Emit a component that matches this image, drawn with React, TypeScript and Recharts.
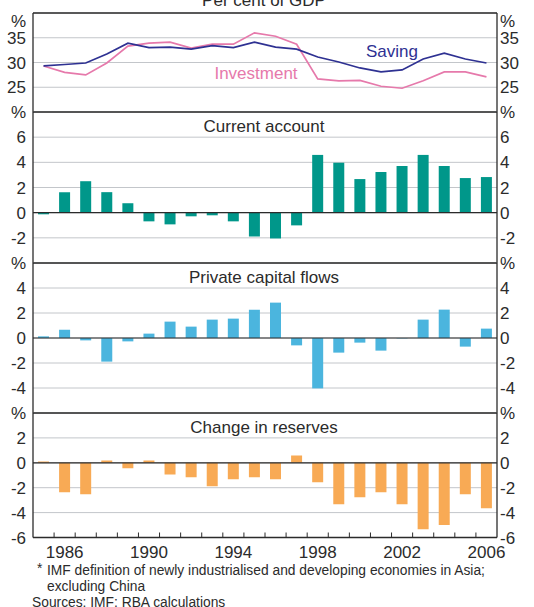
import { ComposedChart, Bar, Line, XAxis, YAxis, CartesianGrid, ReferenceLine } from "recharts";

const years = ["1985", "1986", "1987", "1988", "1989", "1990", "1991", "1992", "1993", "1994", "1995",
  "1996", "1997", "1998", "1999", "2000", "2001", "2002", "2003", "2004", "2005", "2006"];
const yearLabels = ["1986", "1990", "1994", "1998", "2002", "2006"];

const saving = [29.3, 29.6, 29.9, 31.7, 33.9, 33.0, 33.1, 32.7, 33.4, 33.0, 34.1,
  33.1, 32.7, 31.1, 30.1, 28.9, 28.1, 28.5, 30.7, 31.9, 30.7, 29.9];
const investment = [29.3, 28.0, 27.5, 29.9, 33.3, 33.9, 34.1, 32.9, 33.7, 33.7, 36.0,
  35.3, 33.7, 26.7, 26.3, 26.4, 25.2, 24.8, 26.3, 28.1, 28.1, 27.1];
const currentAccount = [-0.13, 1.63, 2.5, 1.63, 0.75, -0.69, -0.93, -0.29, -0.21, -0.69, -1.89,
  -2.05, -1.01, 4.59, 3.97, 2.67, 3.23, 3.71, 4.59, 3.71, 2.75, 2.83];
const privateFlows = [0.13, 0.67, -0.19, -1.89, -0.27, 0.35, 1.31, 0.91, 1.47, 1.55, 2.27,
  2.83, -0.59, -4.03, -1.17, -0.37, -1.01, -0.03, 1.47, 2.27, -0.69, 0.75];
const reserves = [0.1, -2.37, -2.53, 0.19, -0.43, 0.19, -0.93, -1.17, -1.89, -1.33, -1.17,
  -1.33, 0.59, -1.57, -3.33, -2.77, -2.37, -3.33, -5.33, -4.99, -2.53, -3.65];

const data = years.map((year, i) => ({
  year,
  saving: saving[i],
  investment: investment[i],
  currentAccount: currentAccount[i],
  privateFlows: privateFlows[i],
  reserves: reserves[i],
}));

const W = 534;
const H = 607;
const LEFT = 33;
const RIGHT = 497;
const BAND = (RIGHT - LEFT) / years.length;
const FONT = "'Liberation Sans', Arial, sans-serif";
const INK = "#2b2b2b";
const GRID = "#c3c6ca";
const AXIS_Y = 537.5;

const yTick = (side: "left" | "right", top: number, pctDy: number) => (p: any) => {
  const isPct = p.payload.value === top;
  return (
    <text
      x={side === "left" ? 26 : 500}
      y={p.y + (isPct ? pctDy : 0)}
      dy="0.36em"
      textAnchor={side === "left" ? "end" : "start"}
      fontSize={17}
      fontFamily={FONT}
      fill={INK}
    >
      {isPct ? "%" : String(p.payload.value)}
    </text>
  );
};

const xTick = (p: any) => {
  const label = p.payload.value;
  return (
    <g>
      {p.index < years.length - 1 && (
        <line x1={p.x + BAND / 2} x2={p.x + BAND / 2} y1={AXIS_Y} y2={AXIS_Y - 5} stroke={INK} strokeWidth={1} />
      )}
      {yearLabels.includes(label) && (
        <text x={p.x} y={AXIS_Y + 14} dy="0.36em" textAnchor="middle" fontSize={17} fontFamily={FONT} fill={INK}>
          {label}
        </text>
      )}
    </g>
  );
};

type PanelProps = {
  top: number;
  bottom: number;
  domain: [number, number];
  ticks: number[];
  pctDy?: number;
  withX?: boolean;
  lines?: boolean;
  zero?: boolean;
  children: any;
};

const Panel = ({ top, bottom, domain, ticks, pctDy = 0, withX = false, lines = false, zero = true, children }: PanelProps) => (
  <div style={{ position: "absolute", left: 0, top: 0 }}>
    <ComposedChart
      width={W}
      height={H}
      data={data}
      margin={{ top, right: 0, left: 0, bottom: H - bottom - (withX ? 20 : 0) }}
    >
      <CartesianGrid yAxisId="left" vertical={false} stroke={GRID} strokeWidth={1} />
      <XAxis
        dataKey="year"
        hide={!withX}
        height={20}
        interval={0}
        padding={lines ? { left: BAND / 2, right: BAND / 2 } : undefined}
        tickLine={false}
        axisLine={{ stroke: INK, strokeWidth: 1.3 }}
        tick={xTick}
      />
      <YAxis
        yAxisId="left"
        width={LEFT}
        domain={domain}
        ticks={ticks}
        allowDataOverflow
        tickLine={false}
        axisLine={{ stroke: INK, strokeWidth: 1.3 }}
        tick={yTick("left", domain[1], pctDy)}
      />
      <YAxis
        yAxisId="right"
        orientation="right"
        width={W - RIGHT}
        domain={domain}
        ticks={ticks}
        allowDataOverflow
        tickLine={false}
        axisLine={{ stroke: INK, strokeWidth: 1.3 }}
        tick={yTick("right", domain[1], pctDy)}
      />
      {children}
      {zero && <ReferenceLine yAxisId="left" y={0} stroke={INK} strokeWidth={1.2} />}
      <ReferenceLine yAxisId="left" y={domain[1]} stroke={INK} strokeWidth={1.3} />
    </ComposedChart>
  </div>
);

const T = ({ x, y, children, size = 17, color = INK, anchor = "middle" }: any) => (
  <text x={x} y={y} dy="0.36em" textAnchor={anchor} fontSize={size} fontFamily={FONT} fill={color}>
    {children}
  </text>
);

export default function App() {
  return (
    <div style={{ position: "absolute", left: 0, top: 0, width: W, height: H, background: "#fff", overflow: "hidden" }}>
      <Panel top={13} bottom={112} domain={[20, 40]} ticks={[25, 30, 35, 40]} pctDy={7.5} zero={false} lines>
        <Line yAxisId="left" dataKey="investment" stroke="#e679ab" strokeWidth={1.7} dot={false} isAnimationActive={false} />
        <Line yAxisId="left" dataKey="saving" stroke="#2e3192" strokeWidth={1.7} dot={false} isAnimationActive={false} />
      </Panel>
      <Panel top={112} bottom={263} domain={[-4, 8]} ticks={[-2, 0, 2, 4, 6, 8]}>
        <Bar yAxisId="left" dataKey="currentAccount" fill="#00978a" barSize={11} isAnimationActive={false} />
      </Panel>
      <Panel top={263} bottom={413} domain={[-6, 6]} ticks={[-4, -2, 0, 2, 4, 6]}>
        <Bar yAxisId="left" dataKey="privateFlows" fill="#4bb5de" barSize={11} isAnimationActive={false} />
      </Panel>
      <Panel top={413} bottom={AXIS_Y} domain={[-6, 4]} ticks={[-6, -4, -2, 0, 2, 4]} withX>
        <Bar yAxisId="left" dataKey="reserves" fill="#f8aa55" barSize={11} isAnimationActive={false} />
      </Panel>
      <svg width={W} height={H} style={{ position: "absolute", left: 0, top: 0, pointerEvents: "none" }}>
        <T x={264} y={0}>Per cent of GDP</T>
        <T x={392} y={51} color="#2e3192">Saving</T>
        <T x={256} y={73} color="#e679ab">Investment</T>
        <T x={264} y={126}>Current account</T>
        <T x={264} y={277}>Private capital flows</T>
        <T x={264} y={427}>Change in reserves</T>
        <T x={37} y={568} size={13.8} anchor="start">*</T>
        <T x={47} y={570} size={13.8} anchor="start">IMF definition of newly industrialised and developing economies in Asia;</T>
        <T x={47} y={586} size={13.8} anchor="start">excluding China</T>
        <T x={32} y={602} size={13.8} anchor="start">Sources: IMF; RBA calculations</T>
      </svg>
    </div>
  );
}
